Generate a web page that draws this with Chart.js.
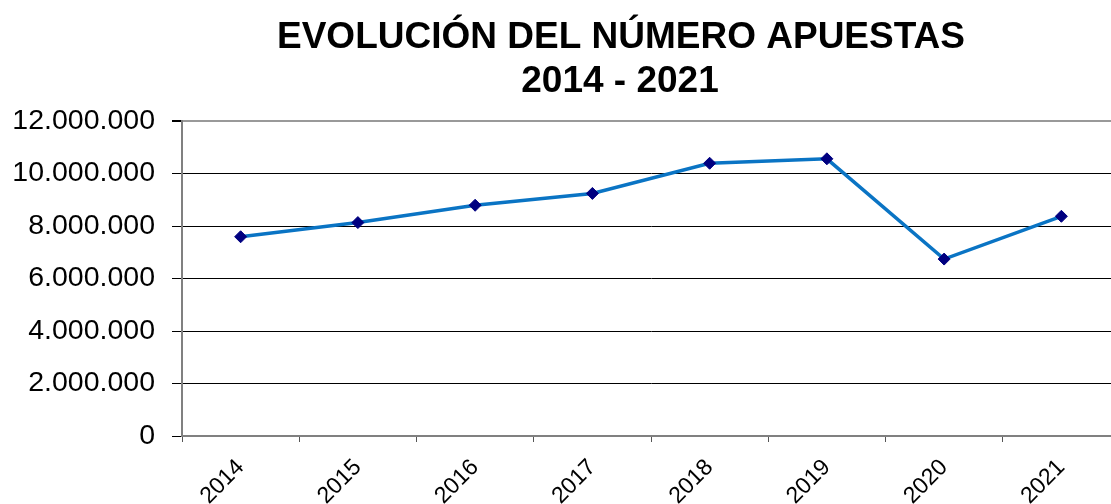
<!DOCTYPE html>
<html>
<head>
<meta charset="utf-8">
<script src="https://cdn.jsdelivr.net/npm/chart.js@4/dist/chart.umd.min.js"></script>
<style>
  html, body { margin: 0; padding: 0; background: #fff; overflow: hidden; }
  #wrap { position: relative; width: 1240px; height: 504px; }
</style>
</head>
<body>
<div id="wrap"><canvas id="chart-area"></canvas></div>
<script>
var years = ['2014', '2015', '2016', '2017', '2018', '2019', '2020', '2021'];
var apuestas = [7590000, 8130000, 8790000, 9240000, 10390000, 10560000, 6740000, 8370000];
var titleLines = ['EVOLUCIÓN DEL NÚMERO APUESTAS', '2014 - 2021'];

function puntos(v) {
    return String(v).replace(/\B(?=(\d{3})+(?!\d))/g, '.');
}

// the title is centred on the whole picture, not on the padded area
var titlePlugin = {
    id: 'tituloCentrado',
    afterDraw: function (chart) {
        var c = chart.ctx;
        c.save();
        c.fillStyle = '#000';
        c.font = 'bold 37px "Liberation Sans", Arial, sans-serif';
        c.textAlign = 'center';
        c.textBaseline = 'alphabetic';
        c.fillText(titleLines[0], 621, 48);
        c.fillText(titleLines[1], 620, 92);
        c.restore();
    }
};

var config = {
    type: 'line',
    data: {
        labels: years,
        datasets: [{
            data: apuestas,
            borderColor: '#0a74c4',
            borderWidth: 3.5,
            pointStyle: 'rectRot',
            pointRadius: 6,
            pointHoverRadius: 6,
            pointBackgroundColor: '#000080',
            pointBorderColor: '#000080',
            pointBorderWidth: 1,
            tension: 0,
            fill: false
        }]
    },
    options: {
        responsive: true,
        maintainAspectRatio: false,
        animation: false,
        layout: { padding: { left: 0, right: 120, top: 121, bottom: 0 } },
        plugins: {
            legend: { display: false },
            tooltip: { enabled: false },
            title: { display: false }
        },
        scales: {
            x: {
                offset: true,
                grid: {
                    offset: true,
                    drawOnChartArea: false,
                    drawTicks: true,
                    tickLength: 6,
                    tickColor: '#555'
                },
                border: { color: '#808080', width: 2 },
                ticks: {
                    color: '#000',
                    maxRotation: 45,
                    minRotation: 45,
                    padding: 12,
                    font: { family: 'Liberation Sans, Arial, sans-serif', size: 23 }
                },
                afterFit: function (axis) { axis.height = 68; }
            },
            y: {
                min: 0,
                max: 12000000,
                ticks: {
                    stepSize: 2000000,
                    color: '#000',
                    padding: 17,
                    font: { family: 'Liberation Sans, Arial, sans-serif', size: 28.5 },
                    callback: function (v) { return puntos(v); }
                },
                grid: {
                    color: function (c) { return c.tick && c.tick.value === 12000000 ? '#999' : '#000'; },
                    lineWidth: function (c) { return c.tick && c.tick.value === 12000000 ? 2 : 1; },
                    tickLength: 10,
                    tickColor: '#000'
                },
                border: { color: '#808080', width: 2 },
                afterFit: function (axis) { axis.width = 182; }
            }
        }
    },
    plugins: [titlePlugin]
};

window.onload = function () {
    var ctx = document.getElementById('chart-area').getContext('2d');
    window.myLine = new Chart(ctx, config);
};
</script>
</body>
</html>
